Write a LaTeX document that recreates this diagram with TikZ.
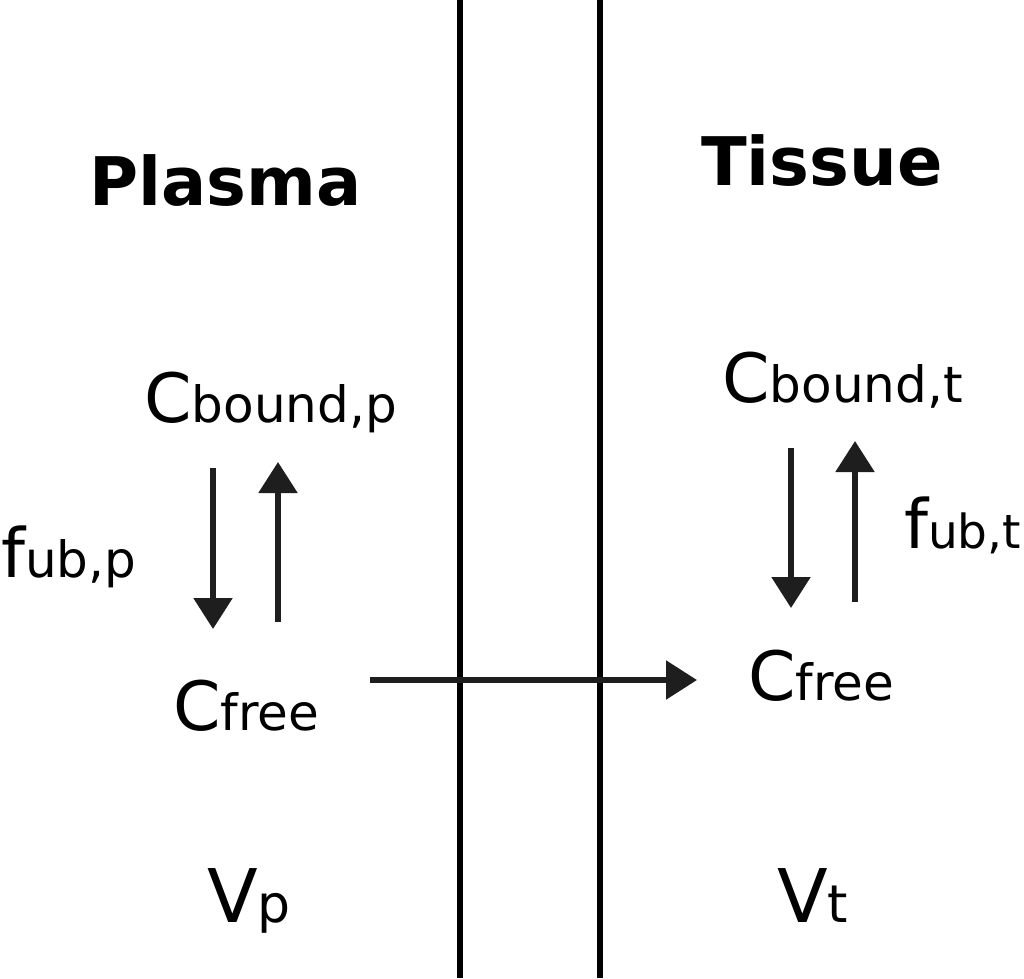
\documentclass[tikz,border=0pt]{standalone}
\usepackage{fontspec}
\setmainfont{DejaVu Sans}
\usetikzlibrary{arrows.meta}
\definecolor{arrowgray}{HTML}{1E1E1E}
\newcommand\symsub[4]{{\fontsize{#3}{#3}\selectfont #1}{\fontsize{#4}{#4}\selectfont #2}}
\begin{document}
\begin{tikzpicture}[x=1pt,y=-1pt,
  arr/.style={line width=5.5pt, draw=arrowgray, -{Triangle[width=38pt,length=31pt]}},
  wall/.style={line width=6pt, draw=black},
  title/.style={font=\fontsize{67}{67}\selectfont\bfseries, anchor=base west, inner sep=0pt},
  lab/.style={anchor=base west, inner sep=0pt}]
\useasboundingbox (0,0) rectangle (1024,978);
% membranes
\coordinate (w1t) at (460,0);
\coordinate (w1b) at (460,978);
\coordinate (w2t) at (600,0);
\coordinate (w2b) at (600,978);
\draw[wall] (w1t) -- (w1b);
\draw[wall] (w2t) -- (w2b);
% titles
\node[title] (plasma) at (89,205) {Plasma};
\node[title] (tissue) at (701,185) {Tissue};
% labels
\node[lab] (cbp) at (144,422) {\symsub{C}{bound,p}{68}{50}};
\node[lab] (cbt) at (722,402) {\symsub{C}{bound,t}{68}{50}};
\node[lab] (fubp) at (1,577) {\symsub{f}{ub,p}{68}{50}};
\node[lab] (fubt) at (904,548) {\symsub{f}{ub,t}{68}{47}};
\node[lab] (cfp) at (173,730) {\symsub{C}{free}{68}{50}};
\node[lab] (cft) at (748,700) {\symsub{C}{free}{68}{50}};
\node[lab] (vp) at (207,922) {\symsub{V}{p}{74}{52}};
\node[lab] (vt) at (777,922) {\symsub{V}{t}{74}{52}};
% arrow endpoints
\coordinate (pd1) at (213,468);
\coordinate (pd2) at (213,629);
\coordinate (pu1) at (278,622);
\coordinate (pu2) at (278,462);
\coordinate (td1) at (791,448);
\coordinate (td2) at (791,608);
\coordinate (tu1) at (855,602);
\coordinate (tu2) at (855,441);
\coordinate (h1) at (370,680);
\coordinate (h2) at (697,680);
\draw[arr] (pd1) -- (pd2);
\draw[arr] (pu1) -- (pu2);
\draw[arr] (td1) -- (td2);
\draw[arr] (tu1) -- (tu2);
\draw[arr] (h1) -- (h2);
\end{tikzpicture}
\end{document}
